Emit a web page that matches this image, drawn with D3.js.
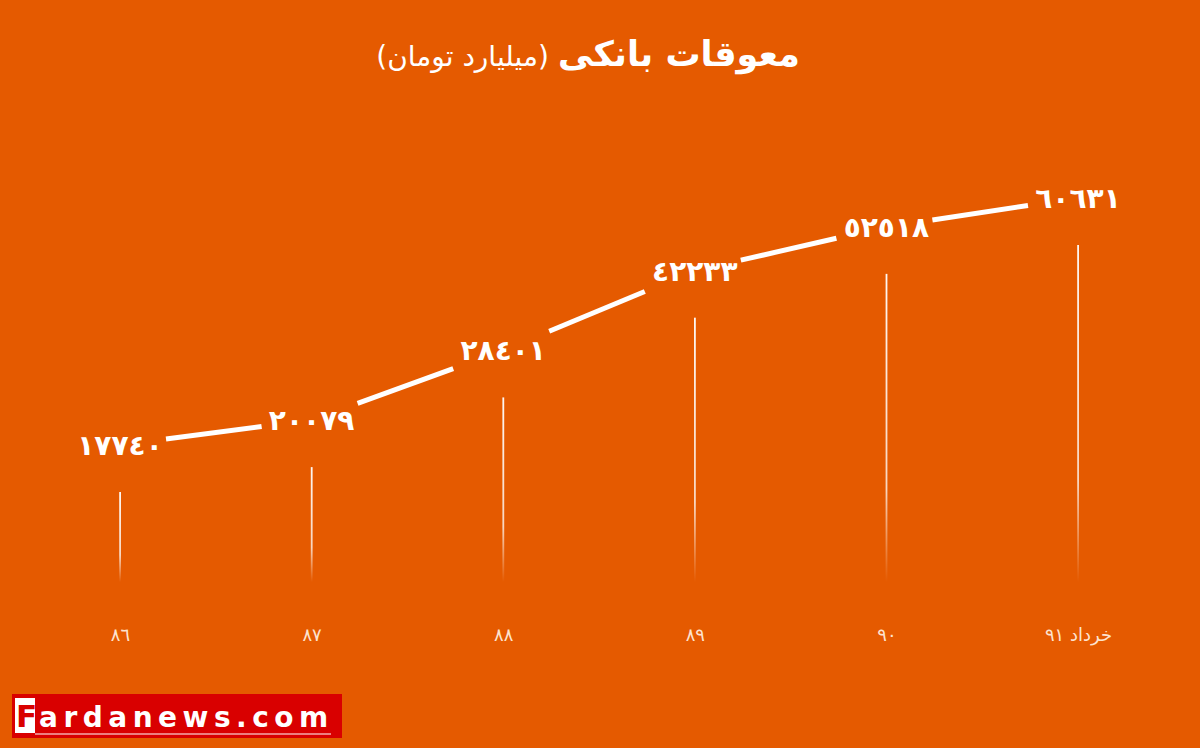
<!DOCTYPE html>
<html><head><meta charset="utf-8">
<script src="https://cdn.jsdelivr.net/npm/d3@7"></script>
<style>html,body{margin:0;padding:0;background:#e55a00;}svg{display:block;}</style>
</head><body>
<svg id="c" width="1200" height="748"></svg>
<script>
const categories = ["٨٦", "٨٧", "٨٨", "٨٩", "٩٠", "خرداد ٩١"];
const values = [17740, 20079, 28401, 42233, 52518, 60631];
const titleMain = "معوقات بانکی";
const titleUnit = "(میلیارد تومان)";

const W = 1200, H = 748;
const svg = d3.select("#c");
svg.append("rect").attr("width", W).attr("height", H).attr("fill", "#e55a00");

const defs = svg.append("defs");
const grad = defs.append("linearGradient").attr("id", "stemFade").attr("x1", 0).attr("y1", 0).attr("x2", 0).attr("y2", 1);
grad.append("stop").attr("offset", "0%").attr("stop-color", "#fff").attr("stop-opacity", 0.95);
grad.append("stop").attr("offset", "70%").attr("stop-color", "#fff").attr("stop-opacity", 0.75);
grad.append("stop").attr("offset", "100%").attr("stop-color", "#fff").attr("stop-opacity", 0);

const x = d3.scalePoint().domain(categories).range([120, 1078]);
const y = d3.scaleLog().domain([17740, 60631]).range([445, 198]);
const stemBottom = 582;
const toDigits = n => String(n).replace(/[0-9]/g, d => "٠١٢٣٤٥٦٧٨٩"[+d]);

const pts = categories.map((c, i) => ({c, v: values[i], x: x(c), y: y(values[i])}));

// Title
function rightAligned(txt, right, yy, size, weight) {
  const t = svg.append("text").attr("x", 0).attr("y", yy)
    .attr("direction", "rtl").attr("unicode-bidi", "embed").attr("text-anchor", "start")
    .attr("font-family", "DejaVu Sans").attr("font-weight", weight).attr("font-size", size)
    .attr("fill", "#fff").text(txt);
  const bb = t.node().getBBox();
  t.attr("x", right - (bb.x + bb.width));
  return t;
}
rightAligned(titleMain, 800, 66, 35, "bold");
rightAligned(titleUnit, 549, 66, 28, "normal");

// stems
svg.selectAll("rect.stem").data(pts).enter().append("rect").attr("class", "stem")
  .attr("x", d => d.x - 0.8).attr("y", d => d.y + 47).attr("width", 1.8)
  .attr("height", d => stemBottom - (d.y + 47)).attr("fill", "url(#stemFade)");

// connecting segments with gaps around labels
const gap = 46;
const segs = d3.pairs(pts).map(([a, b]) => {
  const dx = b.x - a.x, dy = b.y - a.y;
  const t0 = gap / dx, t1 = 1 - (gap + 4) / dx;
  return {x1: a.x + dx * t0, y1: a.y + dy * t0, x2: a.x + dx * t1, y2: a.y + dy * t1};
});
svg.selectAll("line.seg").data(segs).enter().append("line").attr("class", "seg")
  .attr("x1", d => d.x1).attr("y1", d => d.y1).attr("x2", d => d.x2).attr("y2", d => d.y2)
  .attr("stroke", "#fff").attr("stroke-width", 5);

// value labels
svg.selectAll("text.val").data(pts).enter().append("text").attr("class", "val")
  .attr("x", d => d.x).attr("y", d => d.y + 10).attr("text-anchor", "middle")
  .attr("font-family", "DejaVu Sans").attr("font-weight", "bold").attr("font-size", 28)
  .attr("fill", "#fff").text(d => toDigits(d.v));

// x axis labels
const axis = d3.axisBottom(x).tickSize(0).tickPadding(0);
const gx = svg.append("g").attr("transform", "translate(0,628)").call(axis);
gx.select(".domain").remove();
gx.selectAll("text").attr("font-family", "DejaVu Sans").attr("font-size", 18)
  .attr("fill", "#fde3cf").attr("text-anchor", "middle");

// watermark
const wm = svg.append("g");
wm.append("rect").attr("x", 12).attr("y", 694).attr("width", 330).attr("height", 44).attr("fill", "#d90000");
wm.append("rect").attr("x", 15).attr("y", 698).attr("width", 20).attr("height", 35).attr("fill", "#fff");
wm.append("line").attr("x1", 35).attr("x2", 331).attr("y1", 734).attr("y2", 734).attr("stroke", "#fff").attr("stroke-width", 1.2);
wm.append("text").attr("x", 16).attr("y", 727).attr("font-family", "DejaVu Sans").attr("font-weight", "bold").attr("font-size", 31)
  .attr("fill", "#d90000").text("F");
wm.append("text").attr("x", 39).attr("y", 727).attr("font-family", "DejaVu Sans").attr("font-weight", "bold").attr("font-size", 28)
  .attr("letter-spacing", 5.5).attr("fill", "#fff").text("ardanews.com");
</script>
</body></html>
